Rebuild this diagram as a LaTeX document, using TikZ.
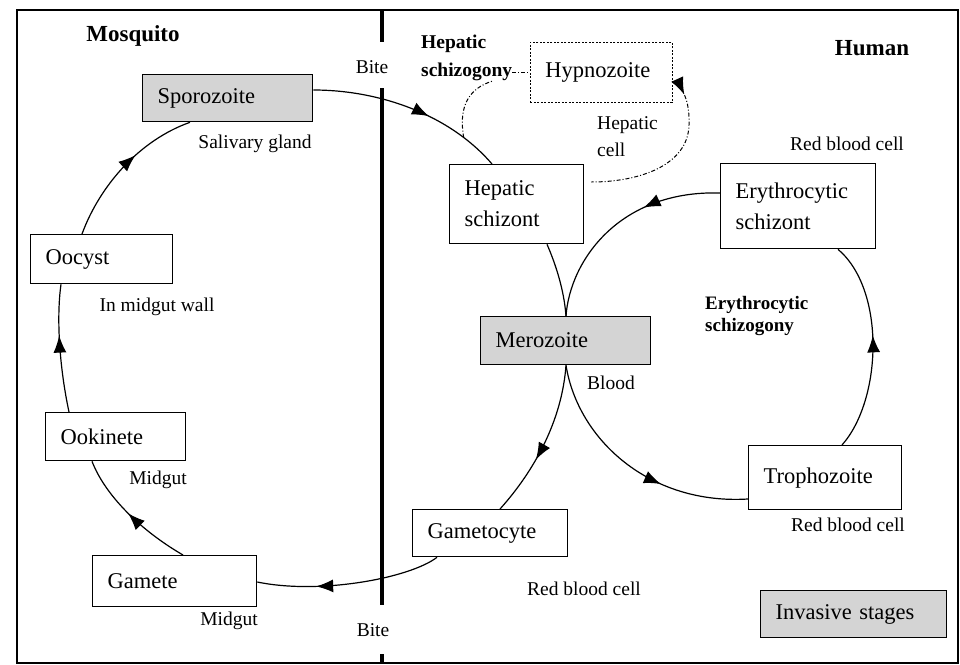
\documentclass[tikz,border=0pt]{standalone}
\usepackage{fontspec}
\setmainfont{Liberation Serif}
\usetikzlibrary{arrows.meta,decorations.markings}
\newcommand\boxfont{\fontsize{22.5}{31}\selectfont}
\newcommand\labfont{\fontsize{19.5}{26}\selectfont}
\newcommand\titlefont{\fontsize{23}{26}\selectfont\bfseries}
\tikzset{
 stage/.style={draw, line width=1.3pt, inner xsep=15pt, inner ysep=0pt, align=left, anchor=north west, font=\boxfont},
 invasive/.style={stage, fill=black!17},
 dormant/.style={stage, line width=0.9pt, dash pattern=on 2pt off 1.5pt},
 lab/.style={inner sep=0pt, font=\labfont},
 blab/.style={inner sep=0pt, align=left, anchor=west},
 link/.style={line width=1.2pt},
 midarr/.style={postaction={decorate, decoration={markings, mark=at position #1 with {\arrow{Latex[length=17pt,width=13pt]}}}}},
 dashlink/.style={line width=1pt, dash pattern=on 4pt off 2pt on 1pt off 2pt},
}
\begin{document}
\begin{tikzpicture}[x=1pt,y=-1pt]
\useasboundingbox (0,0) rectangle (960,664);
\fill[white] (0,0) rectangle (960,664);
\draw[line width=1.5pt] (17,10) rectangle (958,663);
\draw[line width=3.5pt] (382,10) -- (382,42) (382,88) -- (382,605) (382,654) -- (382,663);

% stages
\node[invasive, minimum width=170pt, minimum height=47pt, text width=140pt] (spor) at (142,74) {Sporozoite};
\node[stage, minimum width=142pt, minimum height=49pt, text width=112pt] (oocyst) at (30,234) {Oocyst};
\node[stage, minimum width=140pt, minimum height=48pt, text width=110pt] (ookinete) at (45,412) {Ookinete};
\node[stage, minimum width=164pt, minimum height=51pt, text width=134pt] (gamete) at (92,555) {Gamete};
\node[stage, minimum width=155pt, minimum height=47pt, text width=125pt] (gcyte) at (412,509) {Gametocyte};
\node[invasive, minimum width=170pt, minimum height=48pt, text width=140pt] (mero) at (480,316) {Merozoite};
\node[stage, minimum width=153pt, minimum height=64pt, text width=123pt] (tropho) at (748,445) {Trophozoite};
\node[stage, minimum width=155pt, minimum height=85pt, text width=125pt] (eschiz) at (720,163) {Erythrocytic\\schizont};
\node[stage, minimum width=134pt, minimum height=79pt, text width=104pt] (hschiz) at (449,164) {Hepatic\\schizont};
\node[dormant, minimum width=142pt, minimum height=60pt, text width=112pt] (hypno) at (530,42) {Hypnozoite};
\node[invasive, minimum width=186pt, minimum height=47pt, text width=156pt] (legend) at (760,590) {Invasive stages};

% labels
\node[inner sep=0pt, font=\titlefont] (mosq) at (133,36) {Mosquito};
\node[inner sep=0pt, font=\titlefont] (human) at (872,48) {Human};
\node[lab] (bite1) at (372,67) {Bite};
\node[lab] (bite2) at (373,630) {Bite};
\node[lab] (saliv) at (255,144) {Salivary gland};
\node[lab] (wall) at (157,307) {In midgut wall};
\node[lab] (mid1) at (158,480) {Midgut};
\node[lab] (mid2) at (229,621) {Midgut};
\node[lab] (rbc1) at (584,589) {Red blood cell};
\node[lab] (blood) at (611,383) {Blood};
\node[lab] (rbc2) at (848,525) {Red blood cell};
\node[lab] (rbc3) at (847,144) {Red blood cell};
\node[lab, align=left, anchor=west, font=\fontsize{19.5}{27}\selectfont] (hcell) at (597,137) {Hepatic\\cell};
\node[blab, font=\fontsize{19.5}{28}\selectfont\bfseries] (hsg) at (421,58) {Hepatic\\schizogony};
\node[blab, font=\fontsize{19}{21.5}\selectfont\bfseries] (esg) at (705,316) {Erythrocytic\\schizogony};

% mosquito cycle
\draw[link, midarr=0.6] ([xshift=52pt]oocyst.north west) .. controls (100,185) and (140,140) .. ([xshift=48pt]spor.south west);
\draw[link, midarr=0.6] ([xshift=24pt]ookinete.north west) .. controls (60,370) and (56,320) .. ([xshift=31pt]oocyst.south west);
\draw[link, midarr=0.52] ([xshift=91pt]gamete.north west) .. controls (140,530) and (105,495) .. ([xshift=47pt]ookinete.south west);
\draw[link, midarr=0.68] ([xshift=25pt]gcyte.south west) .. controls (410,578) and (320,595) .. ([yshift=-27pt]gamete.north east);
% human cycle
\draw[link, midarr=0.6] ([yshift=-16pt]spor.north east) .. controls (380,90) and (450,115) .. coordinate[pos=0.8] (jd) ([xshift=43pt]hschiz.north west);
\draw[link] ([xshift=98pt]hschiz.south west) .. controls (556,265) and (564,290) .. ([xshift=86pt]mero.north west);
\draw[link, midarr=0.36] ([yshift=-30pt]eschiz.north west) .. controls (620,190) and (570,260) .. ([xshift=86pt]mero.north west);
\draw[link, midarr=0.62] ([xshift=86pt]mero.south west) .. controls (562,420) and (535,470) .. ([xshift=88pt]gcyte.north west);
\draw[link, midarr=0.64] ([xshift=86pt]mero.south west) .. controls (578,440) and (650,505) .. ([yshift=-54pt]tropho.north west);
\draw[link, midarr=0.55] ([xshift=94pt]tropho.north west) .. controls (882,400) and (886,290) .. ([xshift=118pt]eschiz.south west);
% hepatic loop
\draw[dashlink] (jd) .. controls (458,105) and (470,88) .. ([xshift=-20pt]hsg.south east);
\draw[dashlink] (hsg.east |- hypno.west) -- (hypno.west);
\draw[dashlink, midarr=0.1] ([yshift=-40pt]hypno.north east) .. controls (682,86) and (690,100) .. (689,125) .. controls (688,165) and (640,182) .. ([shift={(7pt,-18pt)}]hschiz.north east);
\end{tikzpicture}
\end{document}
